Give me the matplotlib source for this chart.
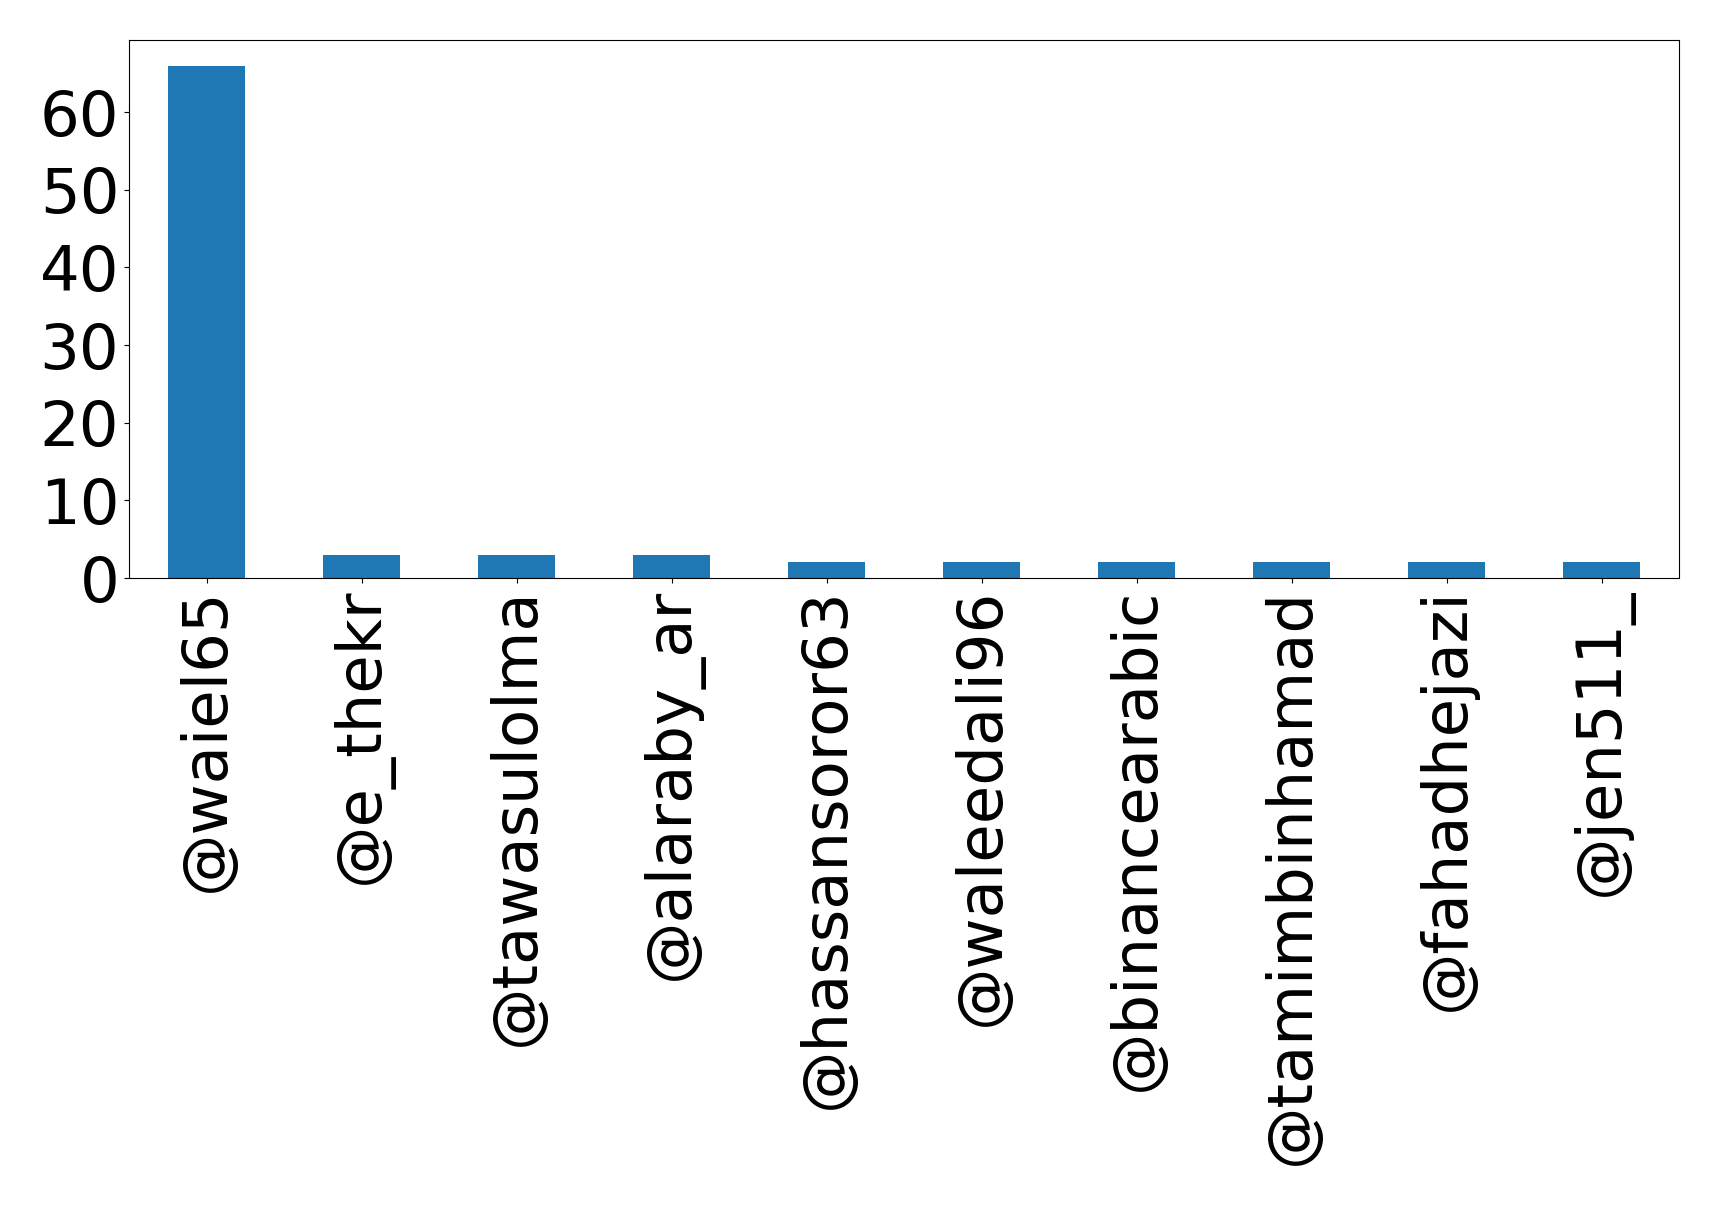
import numpy as np
import matplotlib
matplotlib.use('Agg')
import matplotlib.pyplot as plt

# top mentioned accounts
users = ['@waiel65', '@e_thekr', '@tawasulolma', '@alaraby_ar', '@hassansoror63',
         '@waleedali96', '@binancearabic', '@tamimbinhamad', '@fahadhejazi', '@jen511_']
counts = [66, 3, 3, 3, 2, 2, 2, 2, 2, 2]

fig = plt.figure(figsize=(17.19, 12.05), dpi=100)
ax = fig.add_axes([129 / 1719, 1 - 578 / 1205, 1550 / 1719, 538 / 1205])

x = np.arange(len(users))
ax.bar(x, counts, width=0.5, color='#1f77b4')
ax.set_xlim(-0.5, len(users) - 0.5)
ax.set_xticks(x)
ax.set_xticklabels(users, rotation=90)
ax.set_yticks([0, 10, 20, 30, 40, 50, 60])
ax.tick_params(labelsize=45)

plt.savefig('out.png', dpi=100)
